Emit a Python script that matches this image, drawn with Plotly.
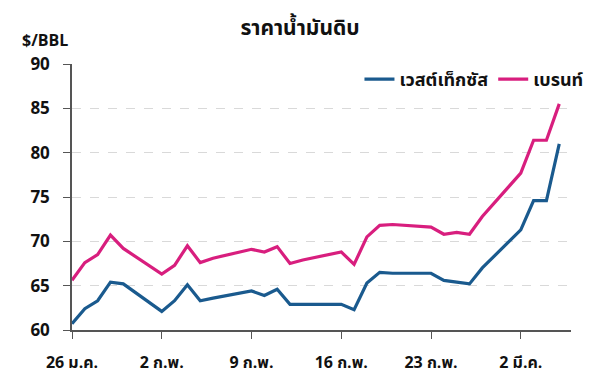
import plotly.graph_objects as go

dates = ["2026-01-26","2026-01-27","2026-01-28","2026-01-29","2026-01-30",
         "2026-02-02","2026-02-03","2026-02-04","2026-02-05","2026-02-06",
         "2026-02-09","2026-02-10","2026-02-11","2026-02-12","2026-02-13",
         "2026-02-16","2026-02-17","2026-02-18","2026-02-19","2026-02-20",
         "2026-02-23","2026-02-24","2026-02-25","2026-02-26","2026-02-27",
         "2026-03-02","2026-03-03","2026-03-04","2026-03-05"]
wti = [60.7, 62.4, 63.3, 65.4, 65.2,
       62.1, 63.3, 65.1, 63.3, 63.6,
       64.4, 63.9, 64.6, 62.9, 62.9,
       62.9, 62.3, 65.3, 66.5, 66.4,
       66.4, 65.6, 65.4, 65.2, 67.0,
       71.3, 74.6, 74.6, 81.0]
brent = [65.6, 67.6, 68.5, 70.7, 69.2,
         66.3, 67.3, 69.5, 67.6, 68.1,
         69.1, 68.8, 69.4, 67.5, 67.9,
         68.8, 67.4, 70.5, 71.8, 71.9,
         71.6, 70.8, 71.0, 70.8, 72.8,
         77.7, 81.4, 81.4, 85.5]
tick_dates = ["2026-01-26","2026-02-02","2026-02-09","2026-02-16","2026-02-23","2026-03-02"]
tick_labels = ["26 ม.ค.", "2 ก.พ.", "9 ก.พ.", "16 ก.พ.", "23 ก.พ.", "2 มี.ค."]
y_ticks = [60, 65, 70, 75, 80, 85, 90]

FONT = "Noto Sans Thai, Noto Sans, Liberation Sans, sans-serif"

fig = go.Figure()
fig.add_trace(go.Scatter(x=dates, y=wti, mode="lines", name="<b>เวสต์เท็กซัส</b>",
                         line=dict(color="#1a5a8e", width=3.2)))
fig.add_trace(go.Scatter(x=dates, y=brent, mode="lines", name="<b>เบรนท์</b>",
                         line=dict(color="#d81e7e", width=3.2)))

fig.update_layout(
    width=600, height=374,
    margin=dict(l=72, r=25, t=64, b=44),
    paper_bgcolor="white", plot_bgcolor="white",
    font=dict(family=FONT, color="#111111"),
    title=dict(text="<b>ราคาน้ำมันดิบ</b>", x=0.5, xanchor="center", y=0.925, yanchor="middle",
               font=dict(size=21, family=FONT, color="#111111")),
    showlegend=True,
    legend=dict(orientation="h", x=1.035, xanchor="right", y=0.942, yanchor="middle",
                font=dict(size=18, family=FONT, color="#111111"),
                bgcolor="rgba(0,0,0,0)", itemwidth=30, tracegroupgap=0),
    annotations=[dict(text="<b>$/BBL</b>", xref="paper", yref="paper", x=-0.105, y=1.035,
                      xanchor="left", yanchor="bottom", showarrow=False,
                      font=dict(size=16, family=FONT, color="#111111"))],
)
fig.update_xaxes(
    type="date", range=["2026-01-26", "2026-03-05 22:00"],
    tickvals=tick_dates, ticktext=[f"<b>{t}</b>" for t in tick_labels],
    tickfont=dict(size=16, family=FONT, color="#111111"),
    ticks="outside", ticklen=7, tickcolor="#555555", tickwidth=1,
    showline=True, linecolor="#555555", linewidth=1.5, showgrid=False, zeroline=False,
    ticklabelstandoff=10, automargin=False,
)
fig.update_yaxes(
    range=[60, 90], tickvals=y_ticks, ticktext=[f"<b>{v}</b>" for v in y_ticks],
    tickfont=dict(size=17, family=FONT, color="#111111"),
    ticks="outside", ticklen=7, tickcolor="#555555", tickwidth=1,
    showline=True, linecolor="#555555", linewidth=1.5,
    showgrid=True, gridcolor="#d9d9d9", griddash="dash", gridwidth=1, zeroline=False,
    ticklabelstandoff=10, automargin=False,
)
fig.write_html("out.html")
